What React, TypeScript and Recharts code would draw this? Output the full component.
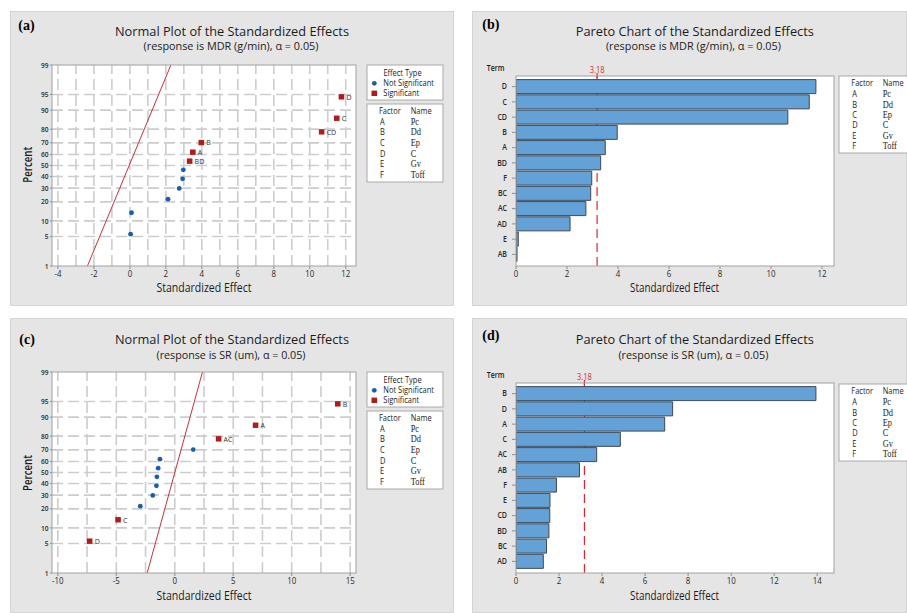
import React from 'react';
import { ScatterChart, Scatter, BarChart, Bar, XAxis, YAxis, ReferenceLine } from 'recharts';

// ---------- shared values ----------
const tCrit = 3.18; // critical value of t at alpha = 0.05

// percent scale of the normal probability plot
const percentTicks = [1, 5, 10, 20, 30, 40, 50, 60, 70, 80, 90, 95, 99];
// plotting percentage of each ranked effect (smallest to largest)
const normalPercents = [5.6, 13.7, 21.8, 29.8, 37.9, 46.0, 54.0, 62.1, 70.2, 78.2, 86.3, 94.4];

// ---------- MDR (g/min) ----------
const mdrNormalTerms = ['AB', 'E', 'AD', 'AC', 'BC', 'F', 'BD', 'A', 'B', 'CD', 'C', 'D'];
const mdrNormalEffects = [0.04, 0.09, 2.12, 2.74, 2.93, 2.97, 3.32, 3.5, 3.97, 10.66, 11.5, 11.76];
const mdrFitLine = [-2.36, 2.28]; // effect where the fitted line meets 1% and 99%
const mdrParetoTerms = ['D', 'C', 'CD', 'B', 'A', 'BD', 'F', 'BC', 'AC', 'AD', 'E', 'AB'];
const mdrParetoEffects = [11.76, 11.5, 10.66, 3.97, 3.5, 3.32, 2.97, 2.93, 2.74, 2.12, 0.09, 0.04];

// ---------- SR (um) ----------
const srNormalTerms = ['D', 'C', 'AB', 'F', 'CD', 'BD', 'BC', 'AD', 'E', 'AC', 'A', 'B'];
const srNormalEffects = [-7.28, -4.85, -2.95, -1.88, -1.57, -1.53, -1.42, -1.27, 1.58, 3.75, 6.91, 13.94];
const srFitLine = [-2.36, 2.37];
const srParetoTerms = ['B', 'D', 'A', 'C', 'AC', 'AB', 'F', 'E', 'CD', 'BD', 'BC', 'AD'];
const srParetoEffects = [13.94, 7.28, 6.91, 4.85, 3.75, 2.95, 1.88, 1.58, 1.57, 1.53, 1.42, 1.27];

// ---------- factor key ----------
const factorCodes = ['A', 'B', 'C', 'D', 'E', 'F'];
const factorNames = ['Pc', 'Dd', 'Ep', 'C', 'Gv', 'Toff'];

// ---------- axis settings ----------
const mdrNormalXTicks = [-4, -2, 0, 2, 4, 6, 8, 10, 12];
const mdrNormalXGrid = [-4, -3, -2, -1, 0, 1, 2, 3, 4, 5, 6, 7, 8, 9, 10, 11, 12];
const srNormalXTicks = [-10, -5, 0, 5, 10, 15];
const srNormalXGrid = [-10, -7.5, -5, -2.5, 0, 2.5, 5, 7.5, 10, 12.5, 15];
const mdrParetoXTicks = [0, 2, 4, 6, 8, 10, 12];
const srParetoXTicks = [0, 2, 4, 6, 8, 10, 12, 14];

// ---------- style ----------
const FONT = '"Open Sans", "Noto Sans", sans-serif';
const SERIF = '"Liberation Serif", "DejaVu Serif", serif';
const SQ = 0.88; // horizontal condensing of small labels
const PANEL_BG = '#e5e5e5';
const BLUE = '#1a5db0';
const RED = '#b01c1c';
const FIT_RED = '#c8323a';
const REF_RED = '#e0262c';
const BAR_FILL = '#63a1d7';
const BAR_EDGE = '#3f4954';
const GRID = '#cdcdcd';
const TEXT = '#1c1c1c';

// inverse standard normal CDF (Acklam's rational approximation)
function probit(p: number): number {
  const a = [-3.969683028665376e1, 2.209460984245205e2, -2.759285104469687e2, 1.38357751867269e2, -3.066479806614716e1, 2.506628277459239];
  const b = [-5.447609879822406e1, 1.615858368580409e2, -1.556989798598866e2, 6.680131188771972e1, -1.328068155288572e1];
  const c = [-7.784894002430293e-3, -3.223964580411365e-1, -2.400758277161838, -2.549732539343734, 4.374664141464968, 2.938163982698783];
  const d = [7.784695709041462e-3, 3.224671290700398e-1, 2.445134137142996, 3.754408661907416];
  const pl = 0.02425;
  if (p < pl) {
    const q = Math.sqrt(-2 * Math.log(p));
    return (((((c[0] * q + c[1]) * q + c[2]) * q + c[3]) * q + c[4]) * q + c[5]) / ((((d[0] * q + d[1]) * q + d[2]) * q + d[3]) * q + 1);
  }
  if (p > 1 - pl) {
    const q = Math.sqrt(-2 * Math.log(1 - p));
    return -(((((c[0] * q + c[1]) * q + c[2]) * q + c[3]) * q + c[4]) * q + c[5]) / ((((d[0] * q + d[1]) * q + d[2]) * q + d[3]) * q + 1);
  }
  const q = p - 0.5;
  const r = q * q;
  return ((((((a[0] * r + a[1]) * r + a[2]) * r + a[3]) * r + a[4]) * r + a[5]) * q) / (((((b[0] * r + b[1]) * r + b[2]) * r + b[3]) * r + b[4]) * r + 1);
}

const zLo = probit(0.01);
const zHi = probit(0.99);
const zTicks = percentTicks.map((p) => probit(p / 100));

// ---------- small text helpers ----------
function SText(props: any) {
  const { x, y, size = 8.5, anchor = 'start', weight = 400, fill = TEXT, family = FONT, dy, children } = props;
  return (
    <g transform={`translate(${x},${y})`}>
      <text transform={`scale(${SQ},1)`} textAnchor={anchor} fontSize={size} fontWeight={weight} fill={fill} fontFamily={family} dy={dy}>
        {children}
      </text>
    </g>
  );
}

function FitText(props: any) {
  const { x, y, size, width, weight = 500, rotate, children } = props;
  return (
    <text
      x={x}
      y={y}
      fontSize={size}
      fontWeight={weight}
      fontFamily={FONT}
      fill={TEXT}
      textAnchor="middle"
      textLength={width}
      lengthAdjust="spacingAndGlyphs"
      transform={rotate ? `rotate(${rotate},${x},${y})` : undefined}
    >
      {children}
    </text>
  );
}

const NumberTick = (props: any) => {
  const { x, y, payload } = props;
  return (
    <SText x={x} y={y} size={9} anchor="middle" dy="0.71em" fill="#2a2a2a">
      {payload.value}
    </SText>
  );
};

const PercentTick = (props: any) => {
  const { x, y, payload } = props;
  const i = zTicks.findIndex((z) => Math.abs(z - payload.value) < 1e-6);
  return (
    <SText x={x} y={y} size={7.5} anchor="end" dy="0.35em" weight={600} fill="#2a2a2a">
      {i >= 0 ? percentTicks[i] : ''}
    </SText>
  );
};

const TermTick = (props: any) => {
  const { x, y, payload } = props;
  return (
    <SText x={x} y={y} size={8} anchor="end" dy="0.35em" weight={600} fill="#2a2a2a">
      {payload.value}
    </SText>
  );
};

const EffectMarker = (props: any) => {
  const { cx, cy, payload } = props;
  if (cx == null || cy == null) return null;
  if (payload.sig) {
    return (
      <g>
        <rect x={cx - 2.8} y={cy - 2.7} width={5.6} height={5.4} fill={RED} />
        <SText x={cx + 5} y={cy} size={8} dy="0.35em" fill="#333">
          {payload.term}
        </SText>
      </g>
    );
  }
  return <circle cx={cx} cy={cy} r={2.4} fill={BLUE} />;
};

const ThresholdLabel = (props: any) => {
  const vb = props.viewBox || {};
  const x = vb.x;
  const y = vb.y;
  if (x == null || y == null) return null;
  return (
    <g>
      <line x1={x} x2={x} y1={y - 3} y2={y + 2} stroke={REF_RED} strokeWidth={1.2} />
      <SText x={x} y={y - 3.5} size={8.5} anchor="middle" fill="#d2302f">
        {tCrit.toFixed(2)}
      </SText>
    </g>
  );
};

// ---------- layout ----------
const NORMAL_W = 444;
const PANEL_H = 295;
const PARETO_W = 435;
const normalMargin = { top: 54, right: 98, bottom: 0, left: 0 };
const normalYW = 42;
const paretoMargin = { top: 65, right: 73, bottom: 0, left: 0 };
const paretoYW = 44;
const XH = 40;

function Panel(props: any) {
  const { left, top, width, plot, chart, overlay } = props;
  return (
    <div style={{ position: 'absolute', left, top, width, height: PANEL_H, overflow: 'hidden' }}>
      <svg width={width} height={PANEL_H} style={{ position: 'absolute', left: 0, top: 0 }}>
        <rect x={0.5} y={0.5} width={width - 1} height={PANEL_H - 1} fill={PANEL_BG} stroke="#d4d4d4" />
        <rect x={plot.x} y={plot.y} width={plot.w} height={plot.h} fill="#ffffff" />
      </svg>
      <div style={{ position: 'absolute', left: 0, top: 0 }}>{chart}</div>
      <svg width={width} height={PANEL_H} style={{ position: 'absolute', left: 0, top: 0, pointerEvents: 'none' }}>
        <rect x={plot.x} y={plot.y} width={plot.w} height={plot.h} fill="none" stroke="#a2a2a2" />
        {overlay}
      </svg>
    </div>
  );
}

function FactorKey(props: any) {
  const { x, y, w, h, headY, rowY, rowStep, codeX, nameX } = props;
  return (
    <g>
      <rect x={x} y={y} width={w} height={h} fill="#fff" stroke="#aaaaaa" />
      <SText x={codeX - 1} y={headY} size={8.5}>Factor</SText>
      <SText x={nameX} y={headY} size={8.5}>Name</SText>
      {factorCodes.map((f, i) => (
        <SText key={f} x={codeX} y={rowY + i * rowStep} size={8.5}>{f}</SText>
      ))}
      {factorNames.map((n, i) => (
        <SText key={n} x={nameX} y={rowY + i * rowStep} size={9.5} family={SERIF}>{n}</SText>
      ))}
    </g>
  );
}

function NormalPanel(props: any) {
  const { left, top, tag, subtitle, subWidth, v, terms, effects, fit, xDomain, xTicks, xGrid } = props;
  const points = terms.map((t: string, i: number) => ({
    term: t,
    x: effects[i],
    z: probit(normalPercents[i] / 100),
    sig: Math.abs(effects[i]) > tCrit,
  }));
  const plot = {
    x: normalMargin.left + normalYW,
    y: normalMargin.top,
    w: NORMAL_W - normalMargin.left - normalYW - normalMargin.right,
    h: PANEL_H - normalMargin.top - XH,
  };
  const chart = (
    <ScatterChart width={NORMAL_W} height={PANEL_H} margin={normalMargin}>
      <XAxis
        type="number"
        dataKey="x"
        domain={xDomain}
        ticks={xTicks}
        interval={0}
        allowDataOverflow
        height={XH}
        axisLine={false}
        tickLine={{ stroke: '#8c8c8c' }}
        tickSize={3}
        tickMargin={2}
        tick={<NumberTick />}
      />
      <YAxis
        type="number"
        dataKey="z"
        domain={[zLo, zHi]}
        ticks={zTicks}
        interval={0}
        allowDataOverflow
        width={normalYW}
        axisLine={false}
        tickLine={{ stroke: '#8c8c8c' }}
        tickSize={2}
        tickMargin={1.5}
        tick={<PercentTick />}
      />
      {xGrid.map((g: number) => (
        <ReferenceLine key={'gx' + g} x={g} stroke={GRID} strokeWidth={1.6} strokeDasharray="11 5" />
      ))}
      {zTicks.slice(1, -1).map((z, i) => (
        <ReferenceLine key={'gy' + i} y={z} stroke={GRID} strokeWidth={1.6} strokeDasharray="11 5" />
      ))}
      <ReferenceLine
        segment={[
          { x: fit[0], y: zLo },
          { x: fit[1], y: zHi },
        ]}
        stroke={FIT_RED}
        strokeWidth={1}
      />
      <Scatter data={points} shape={<EffectMarker />} isAnimationActive={false} />
    </ScatterChart>
  );
  const overlay = (
    <g>
      <text x={v.tagX} y={v.tagY} fontFamily={SERIF} fontWeight={700} fontSize={14} fill="#000">{tag}</text>
      <FitText x={222} y={v.titleY} size={13.5} width={234}>Normal Plot of the Standardized Effects</FitText>
      <FitText x={221} y={v.subY} size={10.5} width={subWidth}>{subtitle}</FitText>
      <FitText x={194} y={v.xLabY} size={12} width={95}>Standardized Effect</FitText>
      <FitText x={22} y={v.pctY} size={12} width={36} weight={600} rotate={-90}>Percent</FitText>
      {/* effect type key */}
      <rect x={357} y={54} width={76} height={35} fill="#fff" stroke="#aaaaaa" />
      <SText x={392.5} y={64.5} size={8.5} anchor="middle">Effect Type</SText>
      <circle cx={364.3} cy={72.3} r={2.4} fill={BLUE} />
      <SText x={373.3} y={75.3} size={8.5}>Not Significant</SText>
      <rect x={361.5} y={79.6} width={5.6} height={5.4} fill={RED} />
      <SText x={373.3} y={85.3} size={8.5}>Significant</SText>
      <FactorKey x={357} y={93} w={76} h={78} headY={103} rowY={113.7} rowStep={10.6} codeX={370} nameX={400.7} />
    </g>
  );
  return <Panel left={left} top={top} width={NORMAL_W} plot={plot} chart={chart} overlay={overlay} />;
}

function ParetoPanel(props: any) {
  const { left, top, tag, subtitle, subWidth, v, terms, effects, xMax, xTicks } = props;
  const data = terms.map((t: string, i: number) => ({ term: t, effect: effects[i] }));
  const plot = {
    x: paretoMargin.left + paretoYW,
    y: paretoMargin.top,
    w: PARETO_W - paretoMargin.left - paretoYW - paretoMargin.right,
    h: PANEL_H - paretoMargin.top - XH,
  };
  const chart = (
    <BarChart layout="vertical" width={PARETO_W} height={PANEL_H} data={data} margin={paretoMargin} barCategoryGap={0.6}>
      <XAxis
        type="number"
        domain={[0, xMax]}
        ticks={xTicks}
        interval={0}
        allowDataOverflow
        height={XH}
        axisLine={false}
        tickLine={{ stroke: '#8c8c8c' }}
        tickSize={3}
        tickMargin={2}
        tick={<NumberTick />}
      />
      <YAxis
        type="category"
        dataKey="term"
        width={paretoYW}
        padding={{ top: 3, bottom: 4 }}
        interval={0}
        axisLine={false}
        tickLine={{ stroke: '#8c8c8c' }}
        tickSize={4}
        tickMargin={5}
        tick={<TermTick />}
      />
      <ReferenceLine x={tCrit} stroke={REF_RED} strokeWidth={1.2} strokeDasharray="9 5" zIndex={250} label={<ThresholdLabel />} />
      <Bar dataKey="effect" fill={BAR_FILL} stroke={BAR_EDGE} strokeWidth={1} isAnimationActive={false} />
    </BarChart>
  );
  const overlay = (
    <g>
      <text x={10.3} y={v.tagY} fontFamily={SERIF} fontWeight={700} fontSize={14} fill="#000">{tag}</text>
      <FitText x={222.8} y={v.titleY} size={13.5} width={238}>Pareto Chart of the Standardized Effects</FitText>
      <FitText x={221.4} y={v.subY} size={10.5} width={subWidth}>{subtitle}</FitText>
      <FitText x={202.5} y={v.xLabY} size={12} width={89}>Standardized Effect</FitText>
      <SText x={14.7} y={v.termY} size={8} weight={600}>Term</SText>
      <FactorKey x={367} y={v.keyY} w={90} h={77} headY={v.keyY + 10.3} rowY={v.keyY + 21.3} rowStep={10.3} codeX={380.3} nameX={410.7} />
    </g>
  );
  return <Panel left={left} top={top} width={PARETO_W} plot={plot} chart={chart} overlay={overlay} />;
}

export default function App() {
  return (
    <div style={{ position: 'absolute', left: 0, top: 0, width: 907, height: 613, background: '#ffffff', overflow: 'hidden' }}>
      <NormalPanel
        left={10}
        top={11}
        tag="(a)"
        subtitle="(response is MDR (g/min), α = 0.05)"
        subWidth={175}
        v={{ tagX: 8.3, tagY: 18.7, titleY: 24.5, subY: 39, xLabY: 281, pctY: 153.7 }}
        terms={mdrNormalTerms}
        effects={mdrNormalEffects}
        fit={mdrFitLine}
        xDomain={[-4.33, 12.57]}
        xTicks={mdrNormalXTicks}
        xGrid={mdrNormalXGrid}
      />
      <ParetoPanel
        left={472}
        top={11}
        tag="(b)"
        subtitle="(response is MDR (g/min), α = 0.05)"
        subWidth={175}
        v={{ tagY: 17.7, titleY: 24.5, subY: 39, xLabY: 281, termY: 59.8, keyY: 65 }}
        terms={mdrParetoTerms}
        effects={mdrParetoEffects}
        xMax={12.47}
        xTicks={mdrParetoXTicks}
      />
      <NormalPanel
        left={10}
        top={318}
        tag="(c)"
        subtitle="(response is SR (um), α = 0.05)"
        subWidth={149}
        v={{ tagX: 9.3, tagY: 26.3, titleY: 25.5, subY: 40.5, xLabY: 282, pctY: 155 }}
        terms={srNormalTerms}
        effects={srNormalEffects}
        fit={srFitLine}
        xDomain={[-10.5, 15.5]}
        xTicks={srNormalXTicks}
        xGrid={srNormalXGrid}
      />
      <ParetoPanel
        left={472}
        top={318}
        tag="(d)"
        subtitle="(response is SR (um), α = 0.05)"
        subWidth={150}
        v={{ tagY: 22.3, titleY: 25.5, subY: 40.5, xLabY: 282, termY: 60.3, keyY: 66 }}
        terms={srParetoTerms}
        effects={srParetoEffects}
        xMax={14.78}
        xTicks={srParetoXTicks}
      />
    </div>
  );
}
